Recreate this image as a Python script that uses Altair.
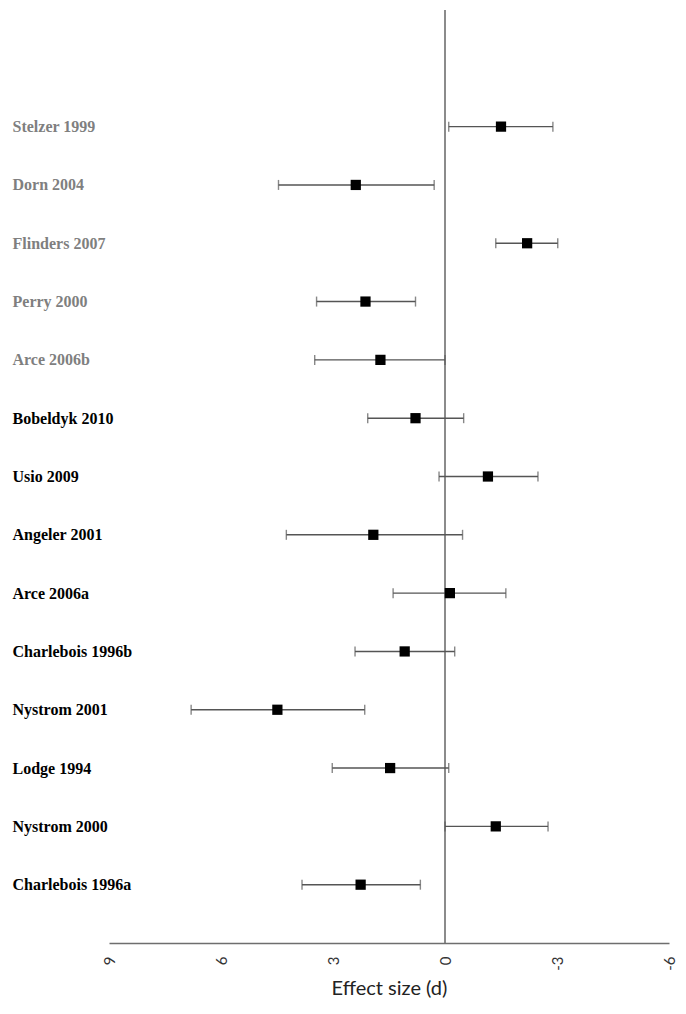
import json
import altair as alt
import pandas as pd

studies = ["Stelzer 1999", "Dorn 2004", "Flinders 2007", "Perry 2000", "Arce 2006b",
           "Bobeldyk 2010", "Usio 2009", "Angeler 2001", "Arce 2006a", "Charlebois 1996b",
           "Nystrom 2001", "Lodge 1994", "Nystrom 2000", "Charlebois 1996a"]
effect = [-1.50, 2.39, -2.20, 2.13, 1.73, 0.79, -1.15, 1.92, -0.13, 1.08, 4.49, 1.47, -1.36, 2.26]
lower = [-0.10, 4.46, -1.36, 3.44, 3.49, 2.07, 0.16, 4.25, 1.39, 2.41, 6.80, 3.02, 0.00, 3.83]
upper = [-2.89, 0.29, -3.02, 0.79, 0.00, -0.50, -2.49, -0.47, -1.63, -0.26, 2.15, -0.10, -2.76, 0.66]
x_ticks = [9, 6, 3, 0, -3, -6]

n = len(studies)
df = pd.DataFrame({
    "study": studies,
    "d": effect,
    "lo": lower,
    "hi": upper,
    "row": [n - i for i in range(n)],
})
zero_df = pd.DataFrame({"x": [0]})

label_arr = json.dumps([""] + studies[::-1] + ["", ""])

xscale = alt.Scale(domain=[-6, 9], reverse=True, nice=False, zero=False)
yscale = alt.Scale(domain=[0, n + 2], nice=False, zero=False)

x_axis = alt.Axis(values=x_ticks, labelExpr="'' + datum.value", labelAngle=270,
                  labelFont="Lato", labelFontSize=15,
                  labelColor="#333333", ticks=False, grid=False, labelPadding=13,
                  domainColor="#6e6e6e", domainWidth=1.6,
                  title="Effect size (d)", titleFont="Lato", titleFontSize=20,
                  titleFontWeight="normal", titleColor="#222222", titlePadding=8)
y_axis = alt.Axis(values=list(range(1, n + 1)), labelExpr=label_arr + "[datum.value]",
                  labelAlign="left", labelPadding=97, labelFont="Liberation Serif",
                  labelFontSize=16, labelFontWeight="bold",
                  labelColor={"condition": {"test": "datum.value >= 10", "value": "#7f7f7f"},
                              "value": "#000000"},
                  ticks=False, domain=False, grid=False, title=None)

base = alt.Chart(df)

zero = alt.Chart(zero_df).mark_rule(color="#6e6e6e", strokeWidth=1.6).encode(
    x=alt.X("x:Q", scale=xscale, axis=x_axis)
)

bars = base.mark_rule(color="#555555", strokeWidth=1.4).encode(
    x=alt.X("lo:Q", scale=xscale, axis=x_axis),
    x2="hi:Q",
    y=alt.Y("row:Q", scale=yscale, axis=y_axis),
)
caps_lo = base.mark_tick(color="#555555", orient="vertical", size=10, thickness=1.4).encode(
    x=alt.X("lo:Q", scale=xscale), y=alt.Y("row:Q", scale=yscale))
caps_hi = base.mark_tick(color="#555555", orient="vertical", size=10, thickness=1.4).encode(
    x=alt.X("hi:Q", scale=xscale), y=alt.Y("row:Q", scale=yscale))
points = base.mark_square(color="black", opacity=1, size=105, filled=True).encode(
    x=alt.X("d:Q", scale=xscale), y=alt.Y("row:Q", scale=yscale))

chart = alt.layer(zero, bars, caps_lo, caps_hi, points).properties(
    width=560, height=933,
    autosize=alt.AutoSizeParams(type="none"),
    padding={"left": 101, "top": 2, "right": 9, "bottom": 61},
).configure_view(stroke=None)

chart.save("out.html", embed_options={"renderer": "svg", "actions": False})
